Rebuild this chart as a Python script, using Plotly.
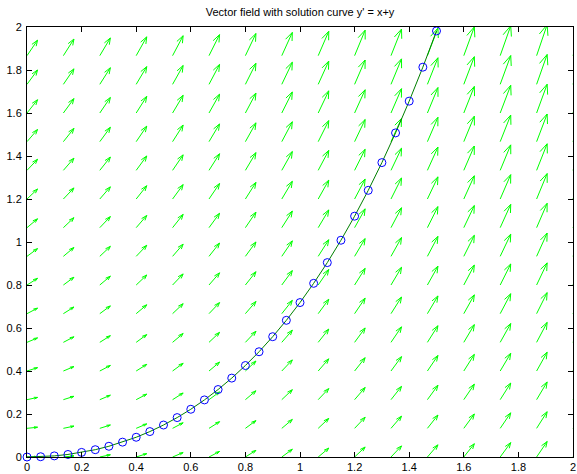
import plotly.graph_objects as go

# Grid of the direction field (16 x 16)
grid_x = [0.0, 0.1333, 0.2667, 0.4, 0.5333, 0.6667, 0.8, 0.9333,
          1.0667, 1.2, 1.3333, 1.4667, 1.6, 1.7333, 1.8667, 2.0]
grid_y = [0.0, 0.1333, 0.2667, 0.4, 0.5333, 0.6667, 0.8, 0.9333,
          1.0667, 1.2, 1.3333, 1.4667, 1.6, 1.7333, 1.8667, 2.0]
arrow_scale = 0.0386   # quiver autoscale factor

# Solution curve samples
sol_x = [0.0, 0.05, 0.1, 0.15, 0.2, 0.25, 0.3, 0.35, 0.4, 0.45, 0.5,
         0.55, 0.6, 0.65, 0.7, 0.75, 0.8, 0.85, 0.9, 0.95, 1.0,
         1.05, 1.1, 1.15, 1.2, 1.25, 1.3, 1.35, 1.4, 1.45, 1.5]
sol_y = [0.0, 0.0013, 0.0052, 0.0118, 0.0214, 0.0340, 0.0499, 0.0691,
         0.0918, 0.1183, 0.1487, 0.1833, 0.2221, 0.2655, 0.3138, 0.3670,
         0.4255, 0.4896, 0.5596, 0.6357, 0.7183, 0.8077, 0.9042, 1.0082,
         1.1201, 1.2403, 1.3693, 1.5074, 1.6552, 1.8131, 1.9817]

ticks = [0, 0.2, 0.4, 0.6, 0.8, 1, 1.2, 1.4, 1.6, 1.8, 2]
tick_text = ["0", "0.2", "0.4", "0.6", "0.8", "1", "1.2", "1.4", "1.6", "1.8", "2"]

# Build quiver segments (slope y' = x + y)
qx, qy = [], []
alpha, beta = 0.33, 0.33
for gx in grid_x:
    for gy in grid_y:
        u = arrow_scale * 1.0
        v = arrow_scale * (gx + gy)
        qx += [gx, gx + u, None]
        qy += [gy, gy + v, None]
        qx += [gx + u - alpha * (u + beta * v), gx + u, gx + u - alpha * (u - beta * v), None]
        qy += [gy + v - alpha * (v - beta * u), gy + v, gy + v - alpha * (v + beta * u), None]

fig = go.Figure()
fig.add_trace(go.Scatter(x=qx, y=qy, mode="lines",
                         line=dict(color="#00ff00", width=1), hoverinfo="skip"))
fig.add_trace(go.Scatter(x=sol_x, y=sol_y, mode="lines",
                         line=dict(color="#008000", width=1)))
fig.add_trace(go.Scatter(x=sol_x, y=sol_y, mode="markers",
                         marker=dict(symbol="circle-open", size=8,
                                     color="#0000ff", line=dict(width=1, color="#0000ff")),
                         cliponaxis=False))

axis_common = dict(range=[0, 2], tickvals=ticks, ticktext=tick_text, automargin=False,
                   showgrid=False, zeroline=False, showline=True, linecolor="black",
                   linewidth=1, mirror="ticks", ticks="inside", ticklen=5,
                   ticklabeloverflow="allow",
                   tickcolor="black", tickfont=dict(family="Liberation Sans, Arial", size=11, color="black"))

fig.update_layout(
    width=577, height=474,
    margin=dict(l=27, r=4, t=27, b=17),
    paper_bgcolor="white", plot_bgcolor="white",
    showlegend=False,
    title=dict(text="Vector field with solution curve y' = x+y",
               x=0.52, xanchor="center", y=0.974, yanchor="middle",
               font=dict(family="Liberation Sans, Arial", size=11, color="black")),
    xaxis=dict(**axis_common, ticklabelstandoff=0),
    yaxis=dict(**axis_common, ticklabelstandoff=2),
)

fig.write_html("out.html", config={"displayModeBar": False},
               post_script="document.body.style.margin='0';")
